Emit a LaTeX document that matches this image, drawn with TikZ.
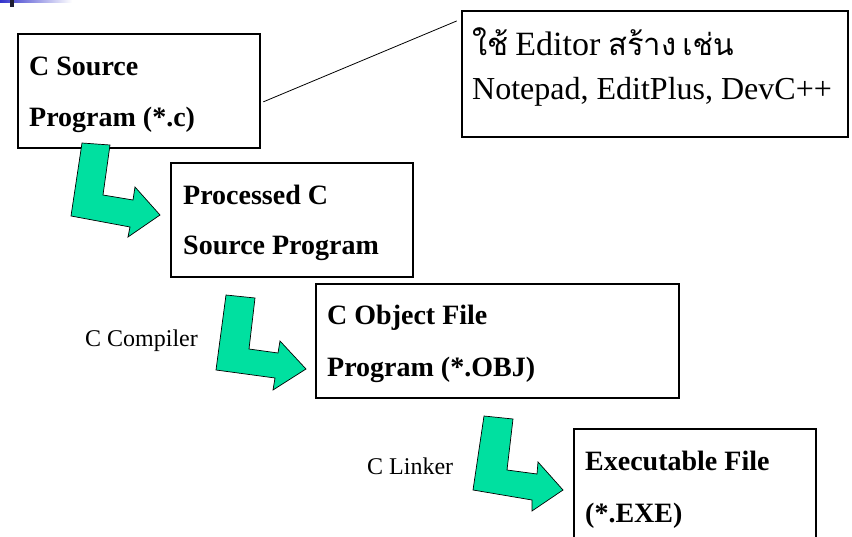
\documentclass[tikz,border=0pt]{standalone}
\usepackage{fontspec}
\setmainfont{Liberation Serif}
\newfontfamily\thaifont[Script=Thai]{Loma}
\definecolor{arrowgreen}{RGB}{0,224,160}
\definecolor{barblue}{RGB}{51,51,204}
\definecolor{bardark}{RGB}{30,30,50}
\tikzset{
  box/.style={draw=black, line width=1.2pt, rectangle, inner sep=0pt},
  boldtxt/.style={anchor=base west, inner sep=0pt, font=\fontsize{28}{30}\selectfont\bfseries},
  plaintxt/.style={anchor=base west, inner sep=0pt, font=\fontsize{24}{26}\selectfont},
  notetxt/.style={anchor=base west, inner sep=0pt, font=\fontsize{32}{34}\selectfont},
  bent/.style={fill=arrowgreen, draw=black, line width=0.7pt, line join=miter},
  link/.style={draw=black, line width=0.8pt}
}
\begin{document}
\begin{tikzpicture}[x=1pt,y=-1pt]
\useasboundingbox (0,0) rectangle (852,537);
\clip (0,0) rectangle (852,537);
% top-left decoration
\shade[left color=barblue, right color=white] (0,0) rectangle (72,3);
\fill[bardark] (10,0) rectangle (14,7);
% boxes
\node[box, minimum width=242pt, minimum height=114pt] (src) at (139,91) {};
\node[box, minimum width=242pt, minimum height=114pt] (proc) at (292,220) {};
\node[box, minimum width=363pt, minimum height=114pt] (obj) at (497.5,341) {};
\node[box, minimum width=242pt, minimum height=140pt] (exe) at (695,499) {};
\node[box, minimum width=386pt, minimum height=126pt] (note) at (655,74) {};
% texts
\node[boldtxt] (src1) at (29,76) {C Source};
\node[boldtxt] (src2) at (29,127) {Program (*.c)};
\node[boldtxt] (proc1) at (183,205) {Processed C};
\node[boldtxt] (proc2) at (183,255) {Source Program};
\node[boldtxt] (obj1) at (327,325) {C Object File};
\node[boldtxt] (obj2) at (327,377) {Program (*.OBJ)};
\node[boldtxt] (exe1) at (585,471) {Executable File};
\node[boldtxt] (exe2) at (585,522) {(*.EXE)};
\node[notetxt] (note1) at (472,56) {{\thaifont\fontsize{31}{33}\selectfont ใช้}\hspace{-1pt} {\fontsize{34}{36}\selectfont Editor} {\thaifont\fontsize{31}{33}\selectfont สร้าง}\hspace{-2pt} {\thaifont\fontsize{30}{32}\selectfont เช่น}};
\node[notetxt] (note2) at (472,100) {Notepad, EditPlus, DevC++};
\node[plaintxt] (comp) at (85,347) {C Compiler};
\node[plaintxt] (link) at (367,474) {C Linker};
% callout line
\draw[link, shorten <=3pt, shorten >=5pt] ([yshift=-12pt]src.east) -- ([yshift=55pt]note.west);
% bent arrows
\draw[bent] (82,143) -- (110,145) -- (103,195) -- (133,200) -- (135,187) -- (160,215)
  -- (128,237) -- (130,227) -- (71,216) -- cycle;
\draw[bent] (226,295) -- (255,298) -- (249,349) -- (278,353) -- (280,341) -- (306,369)
  -- (273,390) -- (275,378) -- (216,370) -- cycle;
\draw[bent] (484,416) -- (513,419) -- (507,470) -- (537,474) -- (538,462) -- (563,490)
  -- (532,511) -- (532,500) -- (473,490) -- cycle;
\end{tikzpicture}
\end{document}
